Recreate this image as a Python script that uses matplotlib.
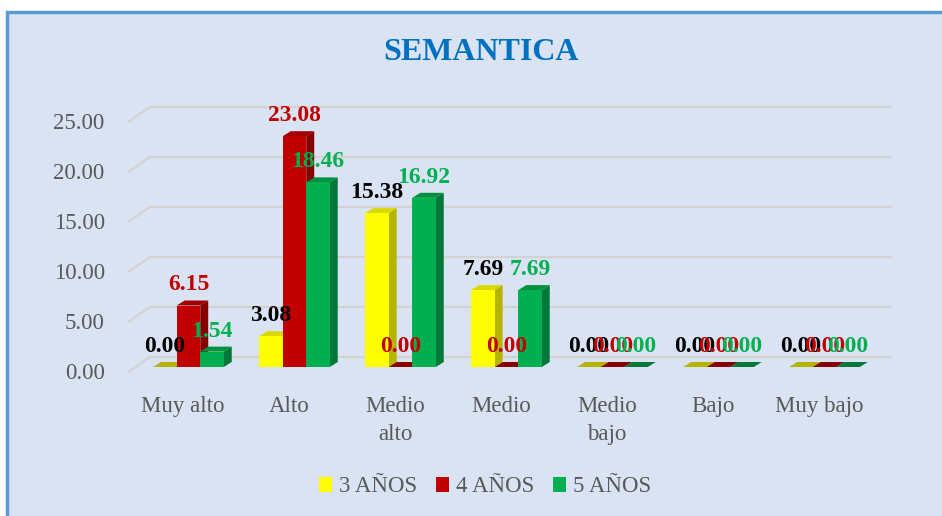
import matplotlib.pyplot as plt
import matplotlib.transforms as mtransforms
from matplotlib.patches import Rectangle, Polygon, Patch

categorias = ['Muy alto', 'Alto', 'Medio\nalto', 'Medio', 'Medio\nbajo', 'Bajo', 'Muy bajo']
series = ['3 AÑOS', '4 AÑOS', '5 AÑOS']
anios3 = [0.00, 3.08, 15.38, 7.69, 0.00, 0.00, 0.00]
anios4 = [6.15, 23.08, 0.00, 0.00, 0.00, 0.00, 0.00]
anios5 = [1.54, 18.46, 16.92, 7.69, 0.00, 0.00, 0.00]
yticks = [0, 5, 10, 15, 20, 25]

colores = ['#FFFF00', '#C00000', '#00B050']
lados = ['#B5B500', '#850000', '#00783A']
techos = ['#D9D900', '#A00000', '#00913F']
col_texto = ['#000000', '#C00000', '#00B050']
gris = '#595959'
fondo = '#DAE3F3'

plt.rcParams['font.family'] = ['Liberation Serif', 'DejaVu Serif']

W, H = 942, 516
fig = plt.figure(figsize=(W / 100, H / 100), dpi=100, facecolor='white')

# marco del grafico
fig.patches.append(Rectangle((7 / W, -0.1), 1.2, (H - 12) / H + 0.1, transform=fig.transFigure,
                             facecolor=fondo, edgecolor='#5B9BD5', linewidth=2.5, zorder=-5))

# ejes: x en unidades de categoria (106 px), y en valor (10 px por unidad)
px_l, px_r, px_t, px_b = 120, 900, 95, 385
ax = fig.add_axes([px_l / W, 1 - px_b / H, (px_r - px_l) / W, (px_b - px_t) / H])
ax.set_facecolor('none')
ax.set_xlim((px_l - 188.5) / 106, (px_r - 188.5) / 106)
ax.set_ylim(-(px_b - 367) / 10, (367 - px_t) / 10)
for s in ax.spines.values():
    s.set_visible(False)

# rejilla en el plano del fondo
x_pared0, x_pared1, x_fin = (128 - 188.5) / 106, (150 - 188.5) / 106, (892 - 188.5) / 106
for v in yticks:
    ax.plot([x_pared0, x_pared1, x_fin], [v - 0.5, v + 1.0, v + 1.0],
            color='#D5D3D1', lw=1.6, zorder=1, solid_capstyle='butt')

w = 0.222
dx, dy = 0.075, 0.5
datos = [anios3, anios4, anios5]
for k, vals in enumerate(datos):
    for i, h in enumerate(vals):
        x0 = i + (k - 1) * w - w / 2
        z = 3 + i * 0.1 + k * 0.01
        ax.add_patch(Polygon([(x0 + w, 0), (x0 + w + dx, dy), (x0 + w + dx, h + dy), (x0 + w, h)],
                             closed=True, facecolor=lados[k], edgecolor='none', zorder=z))
        ax.add_patch(Polygon([(x0, h), (x0 + w, h), (x0 + w + dx, h + dy), (x0 + dx, h + dy)],
                             closed=True, facecolor=techos[k] if h > 0 else lados[k],
                             edgecolor='none', zorder=z))
        if h > 0:
            ax.add_patch(Rectangle((x0, 0), w, h, facecolor=colores[k], edgecolor='none', zorder=z))
        ax.text(x0 + w / 2, h + 1.5, f'{h:.2f}', ha='center', va='baseline',
                fontsize=17, fontweight='bold', color=col_texto[k], zorder=10)

ax.set_yticks(yticks)
ax.set_yticklabels([f'{v:.2f}' for v in yticks], fontsize=16.5, color=gris)
ax.set_xticks([i - 0.05 for i in range(len(categorias))])
ax.set_xticklabels(categorias, fontsize=16.5, color=gris, linespacing=1.4)
ax.tick_params(length=0)
ax.tick_params(axis='y', pad=11)
ax.tick_params(axis='x', pad=8)
desp = mtransforms.ScaledTranslation(0, -0.04, fig.dpi_scale_trans)
for lab in ax.get_yticklabels():
    lab.set_transform(lab.get_transform() + desp)

fig.text(481 / W, 1 - 52 / H, 'SEMANTICA', ha='center', va='center',
         fontsize=23, fontweight='bold', color='#0070C0')

manejadores = [Patch(facecolor=c, edgecolor='none') for c in colores]
fig.legend(manejadores, series, loc='center', bbox_to_anchor=(485 / W, 1 - 487 / H),
           ncol=3, frameon=False, fontsize=16.5, labelcolor=gris,
           handlelength=0.55, handleheight=0.6, handletextpad=0.3, columnspacing=0.85)

fig.savefig('out.png', dpi=100, facecolor='white')
